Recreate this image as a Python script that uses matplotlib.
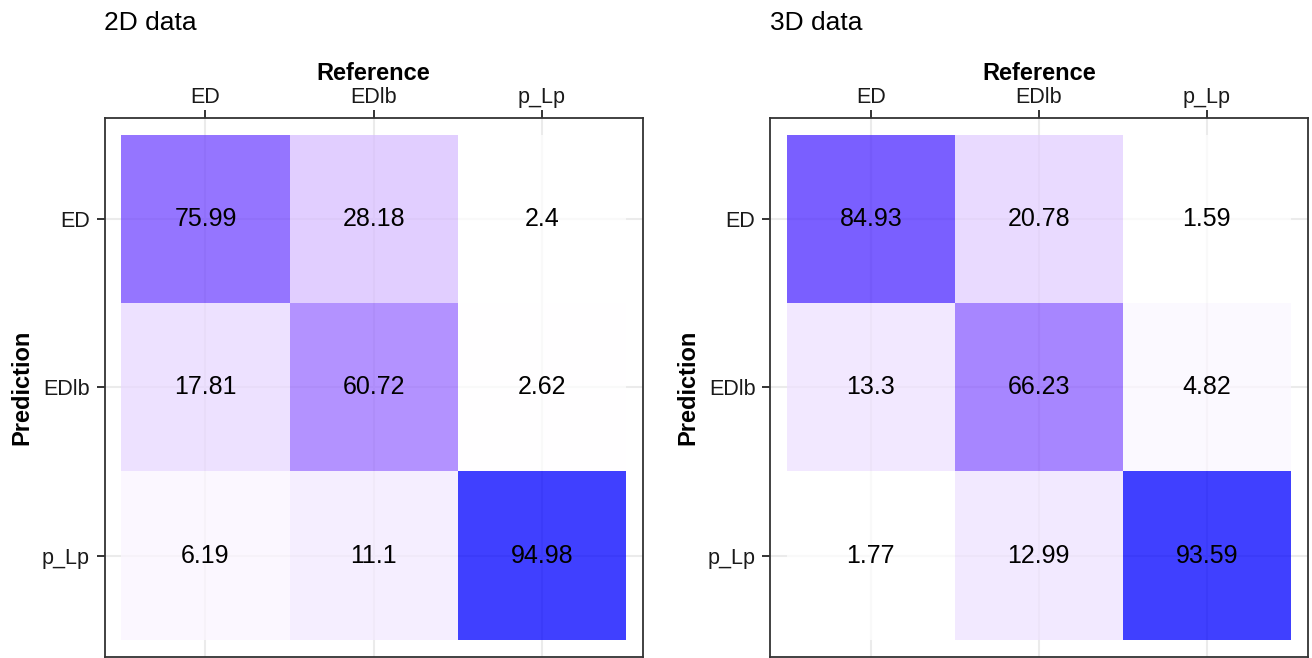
import matplotlib.pyplot as plt
from matplotlib.patches import Rectangle
import numpy as np

plt.rcParams['font.family'] = ['Liberation Sans', 'DejaVu Sans']

classes = ["ED", "EDlb", "p_Lp"]
# rows = prediction, columns = reference (percent)
pct_2d = [[75.99, 28.18, 2.4],
          [17.81, 60.72, 2.62],
          [6.19, 11.1, 94.98]]
pct_3d = [[84.93, 20.78, 1.59],
          [13.3, 66.23, 4.82],
          [1.77, 12.99, 93.59]]
titles = ["2D data", "3D data"]


# white -> blue gradient interpolated in CIELAB, like ggplot's scale_fill_gradient
def srgb_to_lab(rgb):
    c = np.asarray(rgb, float)
    lin = np.where(c <= 0.04045, c / 12.92, ((c + 0.055) / 1.055) ** 2.4)
    M = np.array([[0.4124, 0.3576, 0.1805],
                  [0.2126, 0.7152, 0.0722],
                  [0.0193, 0.1192, 0.9505]])
    xyz = M @ lin / np.array([0.95047, 1.0, 1.08883])
    f = np.where(xyz > 0.008856, np.cbrt(xyz), 7.787 * xyz + 16 / 116)
    return np.array([116 * f[1] - 16, 500 * (f[0] - f[1]), 200 * (f[1] - f[2])])


def lab_to_srgb(lab):
    L, a, b = lab
    fy = (L + 16) / 116
    fx = fy + a / 500
    fz = fy - b / 200
    f = np.array([fx, fy, fz])
    xyz = np.where(f ** 3 > 0.008856, f ** 3, (f - 16 / 116) / 7.787)
    xyz = xyz * np.array([0.95047, 1.0, 1.08883])
    Minv = np.array([[3.2406, -1.5372, -0.4986],
                     [-0.9689, 1.8758, 0.0415],
                     [0.0557, -0.2040, 1.0570]])
    lin = np.clip(Minv @ xyz, 0, 1)
    c = np.where(lin <= 0.0031308, 12.92 * lin, 1.055 * lin ** (1 / 2.4) - 0.055)
    return tuple(np.clip(c, 0, 1))


lab_lo = srgb_to_lab((1, 1, 1))
lab_hi = srgb_to_lab((0, 0, 1))


def fill_color(t):
    return lab_to_srgb(lab_lo + (lab_hi - lab_lo) * t)


fig = plt.figure(figsize=(13.12, 6.58), dpi=100)
W, H = 1312, 658
boxes = [(104.5, 643), (770, 1307.5)]
top, bottom = 118, 656.5
dark = '#333333'

for (x0, x1), data, title in zip(boxes, [pct_2d, pct_3d], titles):
    ax = fig.add_axes([x0 / W, (H - bottom) / H, (x1 - x0) / W, (bottom - top) / H])
    vals = np.array(data)
    lo, hi = vals.min(), vals.max()
    for i in range(3):
        for j in range(3):
            v = vals[i, j]
            ax.add_patch(Rectangle((j - 0.5, i - 0.5), 1, 1,
                                   facecolor=fill_color((v - lo) / (hi - lo)),
                                   alpha=0.75, edgecolor='none', zorder=2))
            ax.text(j, i, f"{v:g}", ha='center', va='center',
                    fontsize=18, color='black', zorder=3)
    ax.set_xlim(-0.6, 2.6)
    ax.set_ylim(2.6, -0.6)
    ax.set_xticks(range(3))
    ax.set_yticks(range(3))
    ax.set_xticklabels(classes)
    ax.set_yticklabels(classes)
    ax.xaxis.tick_top()
    ax.xaxis.set_label_position('top')
    ax.tick_params(axis='both', length=5.5, width=1.4, color=dark,
                   labelsize=15.5, labelcolor='#1a1a1a')
    ax.tick_params(axis='x', pad=2)
    ax.tick_params(axis='y', pad=5)
    ax.grid(True, color='#ebebeb', linewidth=1.5, zorder=1)
    ax.set_axisbelow(True)
    for s in ax.spines.values():
        s.set_color(dark)
        s.set_linewidth(1.3)
    ax.set_xlabel("Reference", fontsize=17, fontweight='bold', labelpad=5)
    ax.set_ylabel("Prediction", fontsize=17, fontweight='bold', labelpad=6)
    fig.text(x0 / W, 1 - 23 / H, title, fontsize=19, ha='left', va='center')

fig.savefig("out.png", dpi=100, facecolor='white')
